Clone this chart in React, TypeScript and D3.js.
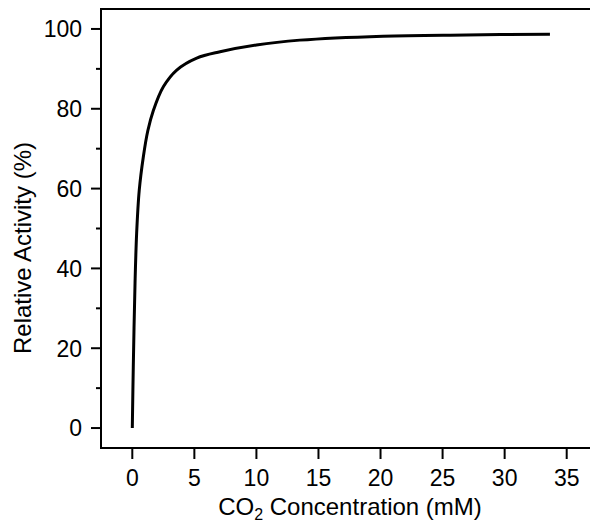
import React from "react";
import * as d3 from "d3";

const concentration = [0, 0.08, 0.22, 0.35, 0.56, 0.89, 1.25, 1.69, 2.5, 3.58, 5.19, 7.07, 10.0, 13.5, 20.2, 26.9, 33.65];
const activity = [0, 15.4, 36.3, 48.8, 59.6, 68.0, 74.5, 79.5, 85.5, 89.7, 92.7, 94.3, 96.0, 97.2, 98.2, 98.5, 98.7];
const xTicks = [0, 5, 10, 15, 20, 25, 30, 35];
const yTicks = [0, 20, 40, 60, 80, 100];
const yMinorTicks = [10, 30, 50, 70, 90];

const W = 590;
const H = 527;
const FONT = "'Liberation Sans', Arial, sans-serif";
const FS = 23;
const TFS = 24;

export default function App() {
  const x = d3.scaleLinear().domain([0, 35]).range([132.3, 566.7]);
  const y = d3.scaleLinear().domain([-5, 105]).range([448, 9]);
  const left = 101;
  const right = 600;
  const top = y(105);
  const bottom = y(-5);

  const pts = concentration.map((c, i) => [c, activity[i]] as [number, number]);
  const line = d3
    .line<[number, number]>()
    .x((d) => x(d[0]))
    .y((d) => y(d[1]))
    .curve(d3.curveCatmullRom.alpha(0.5));

  return (
    <svg width={W} height={H} style={{ position: "absolute", left: 0, top: 0, background: "#fff" }}>
      <rect x={0} y={0} width={W} height={H} fill="#fff" />
      {/* frame */}
      <line x1={left} x2={right} y1={top} y2={top} stroke="#000" strokeWidth={2} />
      <line x1={left} x2={left} y1={top - 1} y2={bottom + 1} stroke="#000" strokeWidth={2} />
      <line x1={left - 1} x2={right} y1={bottom} y2={bottom} stroke="#000" strokeWidth={2} />
      {/* y ticks */}
      {yTicks.map((t) => (
        <g key={"y" + t}>
          <line x1={left - 10} x2={left} y1={y(t)} y2={y(t)} stroke="#000" strokeWidth={2} />
          <text x={left - 19} y={y(t)} dy="0.36em" textAnchor="end" fontFamily={FONT} fontSize={FS} fill="#000">
            {t}
          </text>
        </g>
      ))}
      {yMinorTicks.map((t) => (
        <line key={"ym" + t} x1={left - 5} x2={left} y1={y(t)} y2={y(t)} stroke="#000" strokeWidth={2} />
      ))}
      {/* x ticks */}
      {xTicks.map((t) => (
        <g key={"x" + t}>
          <line x1={x(t)} x2={x(t)} y1={bottom} y2={bottom + 11} stroke="#000" strokeWidth={2} />
          <text x={x(t)} y={486} textAnchor="middle" fontFamily={FONT} fontSize={FS} fill="#000">
            {t}
          </text>
        </g>
      ))}
      {/* curve */}
      <path d={line(pts) || ""} fill="none" stroke="#000" strokeWidth={3} strokeLinejoin="round" />
      {/* axis titles */}
      <text x={350} y={515} textAnchor="middle" fontFamily={FONT} fontSize={TFS} fill="#000">
        CO
        <tspan fontSize={16} dy={5}>2</tspan>
        <tspan dy={-5}> Concentration (mM)</tspan>
      </text>
      <text
        transform={`translate(31, 248) rotate(-90)`}
        textAnchor="middle"
        fontFamily={FONT}
        fontSize={TFS}
        fill="#000"
      >
        Relative Activity (%)
      </text>
    </svg>
  );
}
